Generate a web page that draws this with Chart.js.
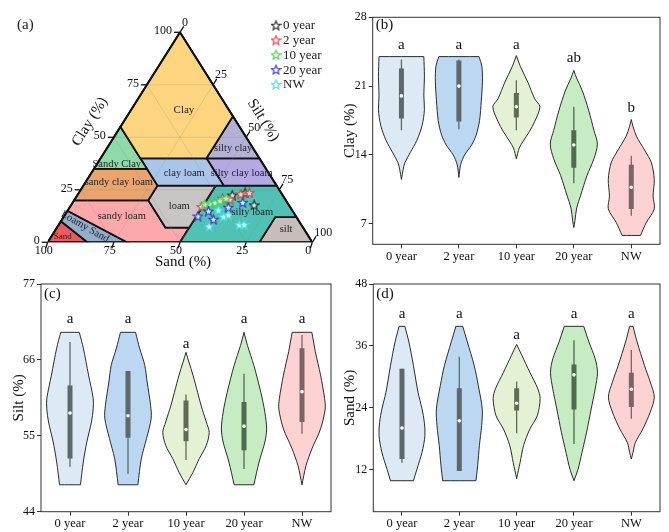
<!DOCTYPE html>
<html>
<head>
<meta charset="utf-8">
<title>Soil texture and particle size</title>
<script src="https://cdn.jsdelivr.net/npm/chart.js@4.4.1/dist/chart.umd.min.js"></script>
<style>
  body { margin: 0; background: #fff; }
  #wrap { position: relative; width: 669px; height: 532px; overflow: hidden; }
  canvas { position: absolute; }
</style>
</head>
<body>
<div id="wrap">
  <canvas id="texture" width="335" height="278" style="left:0;top:0"></canvas>
  <canvas id="clay" width="334" height="265" style="left:335px;top:0"></canvas>
  <canvas id="silt" width="335" height="267" style="left:0;top:265px"></canvas>
  <canvas id="sand" width="334" height="267" style="left:335px;top:265px"></canvas>
</div>
<script>
Chart.defaults.font.family = '"Liberation Serif", "Times New Roman", serif';
Chart.defaults.color = '#111';

const groups = ['0 year', '2 year', '10 year', '20 year', 'NW'];

// ---- (a) texture triangle: samples as [sand, silt, clay] %
const tex0 = [[19.0, 58.5, 22.5], [13.6, 62.8, 23.6], [13.1, 69.1, 17.8]];
const tex2 = [[12.0, 64.4, 23.6], [20.9, 58.6, 20.5], [33.3, 49.7, 17.0], [23.4, 55.6, 21.0], [15.5, 61.5, 23.0]];
const tex10 = [[29.4, 52.0, 18.6], [27.3, 53.8, 18.9], [25.0, 55.2, 19.8], [22.1, 56.9, 21.0], [31.5, 50.3, 18.2]];
const tex20 = [[16.8, 64.2, 19.0], [23.4, 59.9, 16.7], [31.8, 53.3, 14.9], [31.9, 57.1, 11.0], [37.0, 50.5, 12.5]];
const texNW = [[35.2, 57.2, 7.6], [27.5, 60.3, 12.2], [25.2, 61.8, 13.0], [23.4, 68.2, 8.4], [21.6, 70.0, 8.4], [27.8, 56.8, 15.4]];
const texSamples = [tex0, tex2, tex10, tex20, texNW];
const starColors = ['#222222', '#e8393c', '#37d43b', '#3535c8', '#3fe0e0'];

// USDA classes, corners as [sand, clay]
const classNames = ['Clay', 'Sandy Clay', 'silty clay', 'clay loam', 'silty clay loam', 'sandy clay loam',
  'loam', 'silty loam', 'sandy loam', 'Loamy Sand', 'Sand', 'silt'];
const classShapes = [
  [[0, 100], [45, 55], [45, 40], [20, 40], [0, 60]],
  [[45, 55], [65, 35], [45, 35]],
  [[0, 60], [20, 40], [0, 40]],
  [[20, 40], [45, 40], [45, 27], [20, 27]],
  [[0, 40], [20, 40], [20, 27], [0, 27]],
  [[45, 35], [65, 35], [80, 20], [52, 20], [45, 27]],
  [[45, 27], [52, 20], [52, 7], [43, 7], [23, 27]],
  [[23, 27], [43, 7], [50, 0], [20, 0], [8, 12], [0, 12], [0, 27]],
  [[52, 20], [80, 20], [85, 15], [70, 0], [50, 0], [43, 7], [52, 7]],
  [[85, 15], [90, 10], [85, 0], [70, 0]],
  [[90, 10], [100, 0], [85, 0]],
  [[20, 0], [0, 0], [0, 12], [8, 12]]
];
const classColors = ['#fdd57e', '#8edaa8', '#b3b1d5', '#a9c6ea', '#b5a9e2', '#eaa56e',
  '#c9c5c5', '#4fc1b5', '#fda8aa', '#93aeca', '#ee5a61', '#c7bdba'];
// label anchors in plot units [x, y]
const classLabelAt = [[51.5, 63], [26.1, 37.1], [70.1, 45], [51.6, 32.9], [73.3, 32.9], [26.9, 28.4],
  [49.7, 17.3], [77.3, 14.1], [28, 12.5], [14.1, 7.4], [5.7, 2.7], [90.1, 6.3]];
const ternTicks = [0, 25, 50, 75, 100];
const ternGrid = [25, 50, 75];

// ---- violins: outline as [value, half width] bottom to top; box as [low, q1, median, q3, high]
const clayShape = [
  [[11.5, 0], [12.5, 0.03], [13.2, 0.06], [14.2, 0.15], [15.5, 0.27], [17, 0.36], [18.6, 0.4], [20, 0.39], [22, 0.4], [24, 0.39]],
  [[11.7, 0], [13, 0.03], [14, 0.1], [15, 0.22], [16, 0.3], [17.5, 0.36], [19.5, 0.39], [21.5, 0.41], [23, 0.4], [24, 0.35]],
  [[13.6, 0], [14.7, 0.05], [15.4, 0.12], [16.4, 0.23], [17.4, 0.32], [18.9, 0.41], [19.7, 0.32], [21.4, 0.2], [23, 0.07], [24.1, 0]],
  [[6.6, 0], [7.3, 0.02], [8.6, 0.05], [9.9, 0.12], [11.9, 0.23], [13.6, 0.35], [15.1, 0.41], [16.5, 0.35], [18.5, 0.26], [20.5, 0.15], [21.8, 0.05], [22.6, 0]],
  [[5.8, 0.16], [7.1, 0.26], [8.5, 0.4], [9.8, 0.38], [11.5, 0.4], [13.2, 0.35], [14.5, 0.23], [15.9, 0.09], [16.9, 0.03], [17.6, 0]]
];
const clayBox = [[16.5, 17.7, 20.0, 22.8, 23.7], [16.6, 17.4, 21.0, 23.6, 23.7], [16.5, 17.8, 18.9, 20.3, 21.6],
  [11.1, 12.7, 15.0, 16.5, 18.9], [7.8, 8.5, 10.7, 13.0, 13.9]];
const clayLetters = ['a', 'a', 'a', 'ab', 'b'];
const clayLetterAt = [25.2, 25.2, 25.2, 23.9, 18.8];
const clayTicks = [7, 14, 21, 28];

const siltShape = [
  [[47.9, 0.18], [51.2, 0.23], [54.1, 0.29], [57, 0.37], [58.9, 0.4], [60.4, 0.4], [63.8, 0.32], [67.7, 0.23], [70, 0.16]],
  [[47.9, 0.17], [51.7, 0.23], [54.6, 0.32], [57.5, 0.4], [59.4, 0.39], [62.8, 0.33], [65.2, 0.29], [67.7, 0.2], [70, 0.13]],
  [[47.9, 0], [49.7, 0.12], [51.7, 0.23], [53.6, 0.35], [55.5, 0.4], [57, 0.35], [59.4, 0.26], [61.3, 0.2], [63.8, 0.12], [65.7, 0.05], [67.1, 0]],
  [[47.9, 0.17], [51.2, 0.26], [54.1, 0.36], [56, 0.39], [58.4, 0.36], [61.3, 0.29], [65.2, 0.17], [68.1, 0.06], [70, 0]],
  [[47.9, 0], [49.2, 0.03], [50.7, 0.07], [53.1, 0.17], [56, 0.32], [58.9, 0.4], [60.4, 0.39], [63.8, 0.32], [67.2, 0.23], [70, 0.17]]
];
const siltBox = [[50.5, 51.7, 58.3, 62.3, 68.6], [49.5, 54.7, 57.9, 64.4, 64.4], [51.5, 54.2, 55.9, 60.1, 61.0],
  [50.2, 52.9, 56.4, 59.9, 64.0], [55.3, 57.0, 61.4, 67.7, 69.6]];
const siltLetters = ['a', 'a', 'a', 'a', 'a'];
const siltLetterAt = [71.9, 71.9, 68.3, 71.9, 71.9];
const siltTicks = [44, 55, 66, 77];

const sandShape = [
  [[9.9, 0.2], [12.1, 0.26], [15.4, 0.35], [18.6, 0.4], [21.2, 0.39], [23.8, 0.35], [27, 0.28], [32.2, 0.2], [36.8, 0.12], [39.8, 0.05]],
  [[9.9, 0.29], [12.8, 0.32], [16.7, 0.35], [20.6, 0.39], [23.8, 0.4], [28.4, 0.33], [32.2, 0.26], [36.8, 0.14], [39.8, 0.06]],
  [[10.3, 0], [13.4, 0.06], [16.7, 0.12], [19.9, 0.23], [22.5, 0.36], [25.8, 0.41], [27.7, 0.37], [30.9, 0.23], [34.2, 0.09], [36.3, 0]],
  [[9.9, 0], [12.1, 0.07], [15.4, 0.14], [19.3, 0.22], [23.8, 0.3], [27.7, 0.37], [30.9, 0.41], [33.5, 0.37], [36.8, 0.26], [39.8, 0.17]],
  [[14.1, 0], [15.4, 0.03], [17.3, 0.07], [19.9, 0.2], [23.2, 0.33], [26.1, 0.4], [29, 0.33], [32.2, 0.23], [36.8, 0.1], [39.8, 0.03]]
];
const sandBox = [[13.4, 14.1, 20.1, 31.6, 31.6], [11.8, 11.8, 21.5, 27.8, 33.9], [19.1, 23.5, 24.9, 27.8, 29.1],
  [17.0, 23.7, 30.4, 32.4, 37.1], [21.9, 24.2, 27.6, 30.8, 35.2]];
const sandLetters = ['a', 'a', 'a', 'a', 'a'];
const sandLetterAt = [42.2, 42.2, 38.1, 42.2, 42.2];
const sandTicks = [12, 24, 36, 48];

const violinFill = ['#dde9f5', '#bcd7f1', '#e5f1d4', '#c7ebc2', '#fdd2d3'];
const boxColor = ['#5d686e', '#5d686e', '#5f6b56', '#4f6a4f', '#7a6464'];

// ---------- texture triangle ----------
const toPlot = (sand, clay) => ({ x: 100 - sand - clay / 2, y: clay });

function starIcon(color) {
  const c = document.createElement('canvas');
  c.width = 11; c.height = 11;
  const g = c.getContext('2d');
  g.beginPath();
  for (let i = 0; i < 10; i++) {
    const r = i % 2 ? 2.1 : 4.8;
    const a = -Math.PI / 2 + i * Math.PI / 5;
    g.lineTo(5.5 + r * Math.cos(a), 6 + r * Math.sin(a));
  }
  g.closePath();
  g.fillStyle = 'rgba(255,255,255,0.75)';
  g.fill();
  g.strokeStyle = color;
  g.lineWidth = 1.1;
  g.stroke();
  return c;
}
const stars = starColors.map(starIcon);

const texSets = [];
classShapes.forEach((shape, i) => {
  const pts = shape.map(([s, c]) => toPlot(s, c));
  pts.push({ ...pts[0] });
  texSets.push({ data: pts, showLine: true, fill: 'shape', backgroundColor: classColors[i],
    borderColor: '#111', borderWidth: 1.8, pointRadius: 0, order: 10 });
});
ternGrid.forEach(v => {
  const lines = [
    [{ x: v / 2, y: v }, { x: 100 - v / 2, y: v }],
    [{ x: v, y: 0 }, { x: v + (100 - v) / 2, y: 100 - v }],
    [{ x: 100 - v, y: 0 }, { x: (100 - v) / 2, y: 100 - v }]
  ];
  lines.forEach(l => texSets.push({ data: l, showLine: true, borderColor: 'rgba(130,130,130,0.35)',
    borderWidth: 0.7, pointRadius: 0, order: 8 }));
});
texSets.push({ data: [{ x: 0, y: 0 }, { x: 50, y: 100 }, { x: 100, y: 0 }, { x: 0, y: 0 }], showLine: true,
  borderColor: '#111', borderWidth: 2, pointRadius: 0, order: 6 });
texSamples.forEach((list, i) => {
  texSets.push({ label: groups[i], data: list.map(([s, , c]) => toPlot(s, c)), pointStyle: stars[i],
    pointRadius: 5, clip: false, order: 5 - i });
});

const ternDecor = {
  id: 'ternDecor',
  afterDraw(chart) {
    const { ctx, scales: { x, y } } = chart;
    const P = (px, py) => [x.getPixelForValue(px), y.getPixelForValue(py)];
    ctx.save();
    ctx.strokeStyle = '#111';
    ctx.lineWidth = 1.3;
    ctx.fillStyle = '#111';
    ctx.font = '12px "Liberation Serif"';
    ternTicks.forEach(v => {
      // clay, left side
      let [a, b] = P(v / 2, v);
      ctx.beginPath(); ctx.moveTo(a, b); ctx.lineTo(a - 6, b); ctx.stroke();
      ctx.textAlign = 'right'; ctx.textBaseline = 'middle';
      ctx.fillText(String(v), a - 8, b - 1);
      // sand, bottom
      [a, b] = P(100 - v, 0);
      ctx.beginPath(); ctx.moveTo(a, b); ctx.lineTo(a - 2, b + 6); ctx.stroke();
      ctx.textAlign = 'center';
      ctx.fillText(String(v), a - 4, b + 9);
      // silt, right side
      [a, b] = P(50 + v / 2, 100 - v);
      ctx.beginPath(); ctx.moveTo(a, b); ctx.lineTo(a + 3.7, b - 5.9); ctx.stroke();
      ctx.textAlign = 'left';
      ctx.fillText(String(v), a + 2, b - 9.5);
    });
    // axis titles
    const [lx, ly] = P(0, 0), [tx, ty] = P(50, 100), [rx, ry] = P(100, 0);
    ctx.font = '15px "Liberation Serif"';
    ctx.textAlign = 'center'; ctx.textBaseline = 'middle';
    let [a, b] = P(25, 50);
    ctx.save(); ctx.translate(a - 24, b - 15.6); ctx.rotate(Math.atan2(ty - ly, tx - lx));
    ctx.fillText('Clay (%)', 0, 0); ctx.restore();
    [a, b] = P(75, 50);
    ctx.save(); ctx.translate(a + 17, b - 17); ctx.rotate(Math.atan2(ry - ty, rx - tx));
    ctx.fillText('Silt (%)', 0, 0); ctx.restore();
    [a, b] = P(50, 0);
    ctx.fillText('Sand (%)', a + 3, b + 20);
    // class names
    classNames.forEach((name, i) => {
      const [px, py] = P(classLabelAt[i][0], classLabelAt[i][1]);
      ctx.font = (name === 'Sand' ? 9 : name === 'Clay' ? 11 : 10.5) + 'px "Liberation Serif"';
      ctx.fillStyle = '#222';
      ctx.save(); ctx.translate(px, py);
      if (name === 'Loamy Sand') ctx.rotate(Math.PI / 6);
      ctx.fillText(name, 0, 0); ctx.restore();
    });
    // legend
    ctx.font = '13px "Liberation Serif"';
    ctx.textAlign = 'left';
    groups.forEach((g, i) => {
      const yy = 25.7 + i * 14.8;
      ctx.drawImage(stars[i], 270.5, yy - 6);
      ctx.fillStyle = '#222';
      ctx.fillText(g, 283, yy);
    });
    ctx.font = '15px "Liberation Serif"';
    ctx.fillText('(a)', 17, 25);
    ctx.restore();
  }
};

new Chart(document.getElementById('texture'), {
  type: 'scatter',
  data: { datasets: texSets },
  options: {
    responsive: false, animation: false,
    layout: { padding: { left: 47.7, right: 22.7, top: 32.3, bottom: 35.7 } },
    scales: { x: { display: false, min: 0, max: 100 }, y: { display: false, min: 0, max: 100 } },
    plugins: { legend: { display: false }, tooltip: { enabled: false } }
  },
  plugins: [ternDecor]
});

// ---------- violin panels ----------
function violinPanel(id, p) {
  const sets = [];
  groups.forEach((g, i) => {
    const c = i + 1;
    const shape = p.shape[i];
    const n = shape.length;
    const pts = [];
    // left side going up; end levels are repeated so the spline keeps corners and tips sharp
    shape.forEach(([v, w], k) => {
      pts.push({ x: c - w, y: v });
      if (k === 0 || k === n - 1) pts.push({ x: c - w, y: v });
    });
    for (let k = n - 1; k >= 0; k--) {
      const [v, w] = shape[k];
      if (w > 0) {
        pts.push({ x: c + w, y: v });
        if (k === 0 || k === n - 1) pts.push({ x: c + w, y: v });
      }
    }
    pts.push({ ...pts[0] });
    sets.push({ data: pts, showLine: true, fill: 'shape', backgroundColor: violinFill[i], borderColor: '#2b2b2b',
      borderWidth: 1, pointRadius: 0, tension: 0.3, order: 3 });
    const [lo, q1, med, q3, hi] = p.box[i];
    sets.push({ data: [{ x: c, y: lo }, { x: c, y: hi }], showLine: true, borderColor: boxColor[i],
      borderWidth: 1.3, pointRadius: 0, order: 2 });
    sets.push({ data: [{ x: c, y: q1 }, { x: c, y: q3 }], showLine: true, borderColor: boxColor[i],
      borderWidth: 5, pointRadius: 0, order: 1 });
    sets.push({ data: [{ x: c, y: med }], pointRadius: 1.8, pointBackgroundColor: '#fff', pointBorderWidth: 0, order: 0 });
  });

  const decor = {
    id: 'decor' + id,
    afterDraw(chart) {
      const { ctx, chartArea: a, scales: { x, y } } = chart;
      ctx.save();
      ctx.strokeStyle = '#333';
      ctx.lineWidth = 1;
      ctx.strokeRect(a.left, a.top, a.right - a.left, a.bottom - a.top);
      ctx.fillStyle = '#111';
      ctx.font = '15px "Liberation Serif"';
      ctx.textBaseline = 'middle';
      ctx.textAlign = 'left';
      ctx.fillText(p.tag, a.left + 3, a.top + p.tagDy);
      ctx.textAlign = 'center';
      p.letters.forEach((t, i) => ctx.fillText(t, x.getPixelForValue(i + 1), y.getPixelForValue(p.letterAt[i])));
      ctx.restore();
    }
  };

  new Chart(document.getElementById(id), {
    type: 'scatter',
    data: { datasets: sets },
    options: {
      responsive: false, animation: false,
      layout: { padding: { left: 0, right: p.right, top: p.top, bottom: 0 } },
      scales: {
        x: {
          type: 'linear', min: 0.5, max: 5.5,
          afterBuildTicks: s => { s.ticks = groups.map((g, i) => ({ value: i + 1 })); },
          afterFit: s => { s.height = p.xh; },
          ticks: { callback: v => groups[v - 1], font: { size: 12.5 }, color: '#111', padding: 1, maxRotation: 0, autoSkip: false },
          grid: { drawOnChartArea: false, tickLength: 4, color: '#333' },
          border: { display: false }
        },
        y: {
          min: p.min, max: p.max,
          afterBuildTicks: s => { s.ticks = p.ticks.map(v => ({ value: v })); },
          afterFit: s => { s.width = p.yw; },
          ticks: { font: { size: 12 }, color: '#111', padding: 2 },
          grid: { drawOnChartArea: false, tickLength: 4, color: '#333' },
          border: { display: false },
          title: { display: true, text: p.title, font: { size: 15 }, color: '#111', padding: { top: p.titlePad, bottom: 0 } }
        }
      },
      plugins: { legend: { display: false }, tooltip: { enabled: false } }
    },
    plugins: [decor]
  });
}

violinPanel('clay', { shape: clayShape, box: clayBox, letters: clayLetters, letterAt: clayLetterAt, ticks: clayTicks,
  min: 4.9, max: 28, title: 'Clay (%)', tag: '(b)', tagDy: 8, yw: 37.7, xh: 20.7, top: 17.3, right: 9, titlePad: 6.5 });
violinPanel('silt', { shape: siltShape, box: siltBox, letters: siltLetters, letterAt: siltLetterAt, ticks: siltTicks,
  min: 44, max: 77, title: 'Silt (%)', tag: '(c)', tagDy: 10, yw: 41, xh: 20.3, top: 19, right: 3, titlePad: 10 });
violinPanel('sand', { shape: sandShape, box: sandBox, letters: sandLetters, letterAt: sandLetterAt, ticks: sandTicks,
  min: 3.9, max: 48, title: 'Sand (%)', tag: '(d)', tagDy: 10, yw: 38.3, xh: 20.3, top: 19, right: 9, titlePad: 6 });
</script>
</body>
</html>
